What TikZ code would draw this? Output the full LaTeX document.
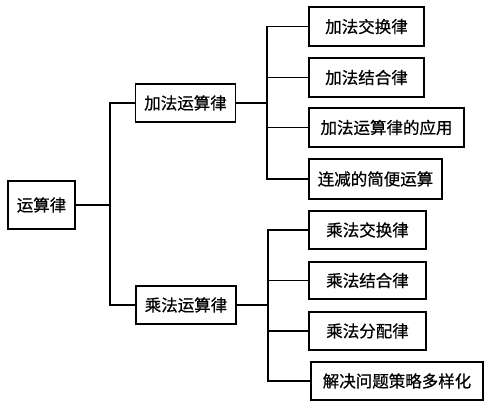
\documentclass[tikz,border=0pt]{standalone}
\usepackage{fontspec}
\newfontfamily\cjk[FakeBold=0.6]{Noto Sans CJK SC}
\begin{document}
\begin{tikzpicture}[x=1pt,y=1pt,
  box/.style={draw=black, line width=1.3pt, inner sep=0pt, font=\cjk\fontsize{16.5}{18}\selectfont, text=black},
  conn/.style={draw=black, line width=1.3pt}]
\useasboundingbox (0,0) rectangle (487,-401);
\node[box, minimum width=67, minimum height=48] (root) at (41.5,-205) {运算律};
\node[box, minimum width=100, minimum height=38] (add) at (185.5,-103) {加法运算律};
\node[box, minimum width=100, minimum height=38] (mul) at (186,-305) {乘法运算律};
\node[box, minimum width=115, minimum height=39] (b1) at (366.5,-26.5) {加法交换律};
\node[box, minimum width=115, minimum height=39] (b2) at (366.5,-77.5) {加法结合律};
\node[box, minimum width=155, minimum height=39] (b3) at (386.5,-127.5) {加法运算律的应用};
\node[box, minimum width=133, minimum height=40] (b4) at (375.5,-179) {连减的简便运算};
\node[box, minimum width=117, minimum height=38] (b5) at (367.5,-230) {乘法交换律};
\node[box, minimum width=117, minimum height=37] (b6) at (367.5,-280.5) {乘法结合律};
\node[box, minimum width=117, minimum height=38] (b7) at (367.5,-331) {乘法分配律};
\node[box, minimum width=172, minimum height=38] (b8) at (397,-381) {解决问题策略多样化};
\coordinate (j1) at (110,-205);
\coordinate (j2) at (267,-103);
\coordinate (j3) at (268,-305);
\draw[conn] (root.east) -- (j1);
\draw[conn] (add.west) -| (j1) |- (mul.west);
\draw[conn] (add.east) -- (j2);
\draw[conn] (b1.west) -| (j2) |- (b4.west);
\draw[conn] (j2 |- b2.west) -- (b2.west);
\draw[conn] (j2 |- b3.west) -- (b3.west);
\draw[conn] (mul.east) -- (j3);
\draw[conn] (b5.west) -| (j3) |- (b8.west);
\draw[conn] (j3 |- b6.west) -- (b6.west);
\draw[conn] (j3 |- b7.west) -- (b7.west);
\end{tikzpicture}
\end{document}
